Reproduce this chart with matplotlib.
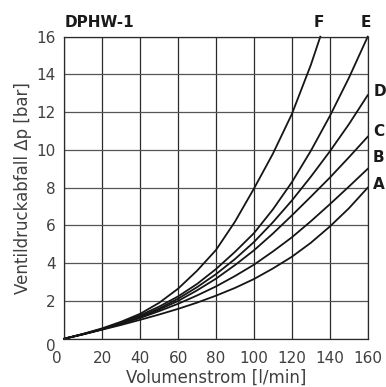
import matplotlib
matplotlib.use("Agg")
import matplotlib.pyplot as plt
from matplotlib.transforms import ScaledTranslation

# flow [l/min] and pressure drop [bar]
flow = [0, 10, 20, 30, 40, 50, 60, 70, 80, 90, 100, 110, 120, 130, 140, 150, 160]
curve_a = [0, .23, .48, .73, 1.0, 1.28, 1.58, 1.91, 2.28, 2.69, 3.16, 3.72, 4.34, 5.08, 5.94, 6.9, 8.0]
curve_b = [0, .24, .5, .79, 1.1, 1.46, 1.85, 2.29, 2.77, 3.32, 3.92, 4.62, 5.37, 6.22, 7.12, 8.05, 9.0]
curve_c = [0, .24, .5, .8, 1.13, 1.54, 2.0, 2.56, 3.18, 3.9, 4.68, 5.57, 6.53, 7.52, 8.53, 9.6, 10.7]
curve_d = [0, .24, .5, .81, 1.17, 1.6, 2.12, 2.73, 3.42, 4.22, 5.12, 6.17, 7.32, 8.58, 9.92, 11.35, 12.9]
curve_e = [0, .25, .52, .86, 1.24, 1.7, 2.24, 2.9, 3.69, 4.6, 5.59, 6.85, 8.29, 9.95, 11.79, 13.8, 16.0]
flow_f = [0, 10, 20, 30, 40, 50, 60, 70, 80, 90, 100, 110, 120, 130, 135]
curve_f = [0, .26, .55, .9, 1.32, 1.9, 2.65, 3.6, 4.7, 6.2, 7.95, 9.8, 11.9, 14.5, 16.0]

xticks = [0, 20, 40, 60, 80, 100, 120, 140, 160]
yticks = [0, 2, 4, 6, 8, 10, 12, 14, 16]

fig = plt.figure(figsize=(3.86, 3.87), dpi=100)
ax = fig.add_axes([0.1666, 0.1248, 0.786, 0.7804])

for ys in [curve_a, curve_b, curve_c, curve_d, curve_e]:
    ax.plot(flow, ys, color="#151515", lw=1.3, clip_on=False)
ax.plot(flow_f, curve_f, color="#151515", lw=1.3, clip_on=False)

ax.set_xlim(0, 160)
ax.set_ylim(0, 16)
ax.set_xticks(xticks)
ax.set_yticks(yticks)
ax.grid(True, axis="x", color="#2a2a2a", lw=0.9)
ax.grid(True, axis="y", color="#555555", lw=0.9)
ax.set_axisbelow(True)
for s in ax.spines.values():
    s.set_color("#2a2a2a")
    s.set_linewidth(0.9)
ax.tick_params(length=0, labelsize=11, labelcolor="#404040")
ax.tick_params(axis="x", pad=9)
ax.tick_params(axis="y", pad=6)

# the zero labels sit a bit off the corner in the original
ax.get_xticklabels()[0].set_transform(
    ax.get_xticklabels()[0].get_transform() + ScaledTranslation(-7 / 100, 0, fig.dpi_scale_trans))
ax.get_yticklabels()[0].set_transform(
    ax.get_yticklabels()[0].get_transform() + ScaledTranslation(0, -6 / 100, fig.dpi_scale_trans))

ax.set_xlabel("Volumenstrom [l/min]", fontsize=12, color="#404040", labelpad=2)
ax.set_ylabel("Ventildruckabfall \u0394p [bar]", fontsize=12, color="#404040", labelpad=3)

ax.text(0, 16.75, "DPHW-1", fontsize=11, fontweight="bold", ha="left", va="center", color="#1a1a1a")
labels = {"F": (134, 16.75), "E": (158.8, 16.75), "D": (166.5, 13.07),
          "C": (165.8, 11.0), "B": (165.8, 9.6), "A": (165.8, 8.17)}
for name, (lx, ly) in labels.items():
    ax.text(lx, ly, name, fontsize=11, fontweight="bold", ha="center", va="center",
            color="#1a1a1a", clip_on=False)

fig.savefig("out.png", dpi=100)
